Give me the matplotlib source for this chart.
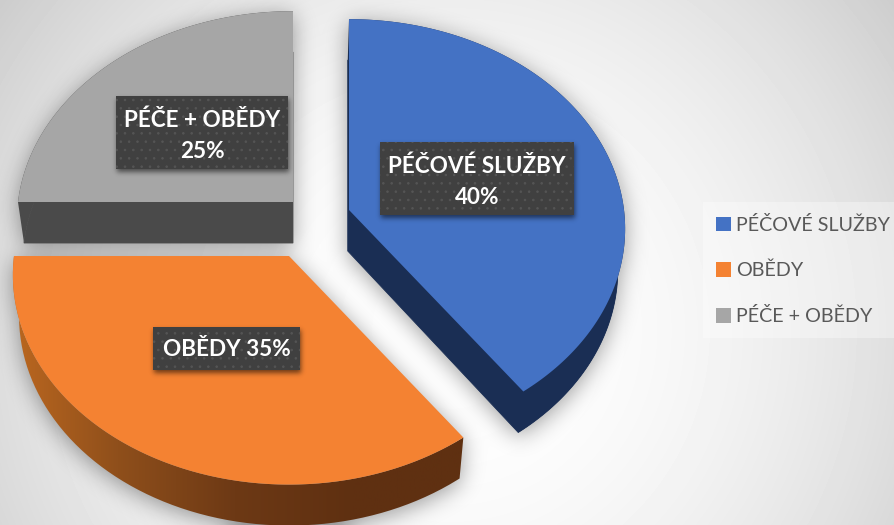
import matplotlib
matplotlib.use("Agg")
import matplotlib.pyplot as plt
import numpy as np
from matplotlib.patches import Patch, PathPatch, Polygon, Rectangle
from matplotlib.path import Path

# Data
categories = ["PÉČOVÉ SLUŽBY", "OBĚDY", "PÉČE + OBĚDY"]
shares = [40, 35, 25]
box_texts = ["PÉČOVÉ SLUŽBY\n40%", "OBĚDY 35%", "PÉČE + OBĚDY\n25%"]

# Look
top_colors = ["#4472c4", "#f48232", "#a6a6a6"]
side_colors = ["#1a2e54", "#6a3613", "#4a4a4a"]
apexes = [(349, 210), (289, 256), (293, 202)]
boxes = [(380, 142, 194, 73), (153, 327, 147, 43), (116, 96, 172, 73)]

W, H = 894, 525
RX, RY, PERSP = 275, 208, 0.09
DEPTH, SHRINK, VANISH_X = 41, 0.978, 292
PAD = 60

plt.rcParams["font.family"] = ["Lato", "DejaVu Sans"]
plt.rcParams["hatch.linewidth"] = 0.6


def rim(apex, t0, t1, n=200):
    """Outer edge of a slice, circle seen with a bit of perspective."""
    t = np.radians(np.linspace(t0, t1, n))
    u, v = np.sin(t), -np.cos(t)
    s = 1 / (1 - PERSP * v)
    return np.column_stack([apex[0] + RX * u * s, apex[1] + RY * v * s])


def lower(pts):
    out = pts.copy()
    out[:, 0] = VANISH_X + (out[:, 0] - VANISH_X) * SHRINK
    out[:, 1] += DEPTH
    return out


def blur(mask, sigma):
    # pad first so the fft does not wrap bottom onto top
    big = np.pad(mask, PAD, mode="edge")
    h, w = big.shape
    yy, xx = np.mgrid[:h, :w]
    d2 = np.minimum(xx, w - xx) ** 2 + np.minimum(yy, h - yy) ** 2
    kernel = np.exp(-d2 / (2 * sigma**2))
    kernel /= kernel.sum()
    res = np.fft.irfft2(np.fft.rfft2(big) * np.fft.rfft2(kernel), s=big.shape)
    return res[PAD:-PAD, PAD:-PAD]


def overlay(ax, alpha, zorder):
    rgba = np.zeros((H, W, 4))
    rgba[..., 3] = np.clip(alpha, 0, 1)
    ax.imshow(rgba, extent=(0, W, H, 0), zorder=zorder, interpolation="bilinear")


fig = plt.figure(figsize=(W / 100, H / 100), dpi=100)
ax = fig.add_axes((0, 0, 1, 1))

# background
yy, xx = np.mgrid[:H, :W]
dist = np.hypot(xx - 450, yy - 330) / 650
ax.imshow(1 - 0.27 * np.clip(dist, 0, 1) ** 2, cmap="gray", vmin=0, vmax=1,
          extent=(0, W, H, 0), zorder=0)

# slice outlines from the shares
angles = np.cumsum([0] + shares) / sum(shares) * 360
grid = np.column_stack([xx.ravel() + 0.5, yy.ravel() + 0.5])
shadow = np.zeros((H, W))
slices = []
for i in range(len(shares)):
    apex = np.array(apexes[i], dtype=float)
    arc = rim(apex, angles[i], angles[i + 1])
    top = np.vstack([apex, arc])
    low_arc = lower(arc)
    bottom = lower(top)
    strip = np.vstack([arc, low_arc[::-1]])
    slices.append((top, bottom, strip))
    for poly in (top, bottom, strip):
        shadow = np.maximum(shadow, Path(poly).contains_points(grid).reshape(H, W))

# shadow sits a few px lower than the pie
shifted = np.zeros_like(shadow)
shifted[4:] = shadow[:-4]
overlay(ax, 0.38 * blur(shifted, 11), 1)

for i, (top, bottom, strip) in enumerate(slices):
    if i == 1:
        # orange rim gets lighter towards the left
        clip = PathPatch(Path(np.vstack([strip, strip[:1]])), fc="none", ec="none",
                         transform=ax.transData)
        ax.add_patch(clip)
        shade = np.linspace(0, 1, 256).reshape(1, -1)
        cmap = matplotlib.colors.LinearSegmentedColormap.from_list(
            "rim", ["#c06a20", "#8f4f1b", "#6d3915", "#5f3011", "#5f3011"])
        im = ax.imshow(shade, cmap=cmap, extent=(0, 470, H + 60, 240),
                       aspect="auto", zorder=2)
        im.set_clip_path(clip)
        ax.add_patch(Polygon(top, fc=top_colors[i], ec="none", zorder=3))
    else:
        # edge on the lower wedge only, it hides the seam with the strip
        ax.add_patch(Polygon(bottom, fc=side_colors[i], ec=side_colors[i], lw=0.6, zorder=2))
        ax.add_patch(Polygon(strip, fc=side_colors[i], ec="none", zorder=2))
        ax.add_patch(Polygon(top, fc=top_colors[i], ec="none", zorder=3))

# label boxes with soft shadow
box_mask = np.zeros((H, W))
for x, y, w, h in boxes:
    box_mask[y + 3:y + h + 3, x + 1:x + w + 1] = 1
overlay(ax, 0.55 * blur(box_mask, 2.5), 4)
for (x, y, w, h), txt in zip(boxes, box_texts):
    ax.add_patch(Rectangle((x, y), w, h, fc="#404040", ec="#555555", lw=0,
                           hatch="..", zorder=5))
    nudge = 3 if "\n" in txt else 1
    ax.text(x + w / 2, y + h / 2 + nudge, txt, color="white", fontsize=16.2,
            fontweight="bold", ha="center", va="center", linespacing=1.6,
            zorder=6)

# legend panel + legend
ax.add_patch(Rectangle((703, 202), 191, 136, fc="white", alpha=0.35, ec="none",
                       zorder=1))
handles = [Patch(fc=c, ec="none") for c in top_colors]
leg = ax.legend(handles, categories, loc="upper left",
                bbox_to_anchor=(708 / W, 1 - 208 / H), frameon=False,
                fontsize=14.2, labelcolor="#595959", labelspacing=1.42,
                handlelength=0.75, handleheight=0.75, handletextpad=0.28,
                borderaxespad=0, borderpad=0.4)
leg.set_zorder(7)

ax.set_xlim(0, W)
ax.set_ylim(H, 0)
ax.set_aspect("auto")
ax.axis("off")

fig.savefig("out.png", dpi=100)
